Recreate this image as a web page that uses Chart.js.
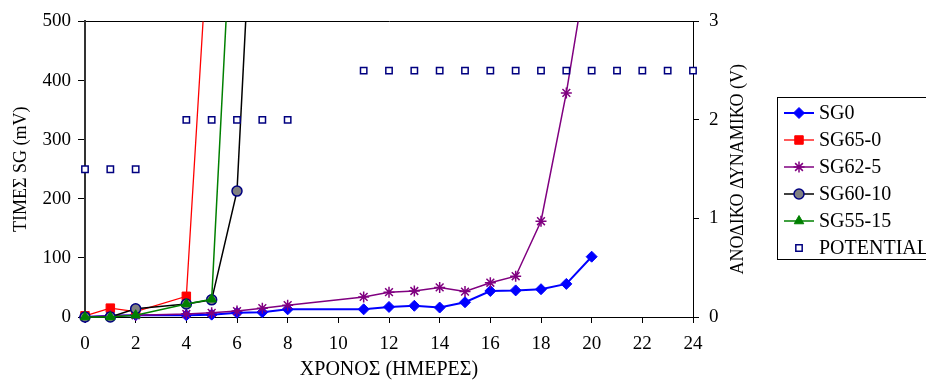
<!DOCTYPE html>
<html>
<head>
<meta charset="utf-8">
<script src="https://cdn.jsdelivr.net/npm/chart.js@4.4.1/dist/chart.umd.min.js"></script>
<style>
  body { margin: 0; background: #fff; overflow: hidden; }
  #wrap { position: relative; width: 926px; height: 387px; overflow: hidden; }
  #chart { position: absolute; left: 0; top: 0; }
  #legend {
    position: absolute; left: 777px; top: 97px; width: 220px; height: 161px;
    border: 1px solid #000; background: #fff;
    font-family: "Liberation Serif", "Times New Roman", serif; font-size: 20px; color: #000;
  }
  .item { position: absolute; left: 6px; height: 27px; display: flex; align-items: center; white-space: nowrap; }
  .item canvas { margin-right: 5px; }
</style>
</head>
<body>
<div id="wrap">
  <canvas id="chart" width="926" height="387"></canvas>
  <div id="legend"></div>
</div>
<script>
// Data
const xTitle = 'ΧΡΟΝΟΣ (ΗΜΕΡΕΣ)';
const yTitle = 'ΤΙΜΕΣ SG (mV)';
const y1Title = 'ΑΝΟΔΙΚΟ ΔΥΝΑΜΙΚΟ (V)';

const sg0Days = [0, 1, 2, 4, 5, 6, 7, 8, 11, 12, 13, 14, 15, 16, 17, 18, 19, 20];
const sg0Vals = [0, 2, 3, 3, 4, 7, 8, 13, 13, 17, 19, 16, 25, 44, 45, 47, 56, 102];

const sg65Days = [0, 1, 2, 4, 5];
const sg65Vals = [2, 15, 9, 35, 740];

const sg62Days = [0, 1, 2, 4, 5, 6, 7, 8, 11, 12, 13, 14, 15, 16, 17, 18, 19, 20];
const sg62Vals = [0, 2, 3, 5, 7, 10, 15, 20, 34, 42, 44, 50, 43, 58, 69, 162, 379, 640];

const sg60Days = [0, 1, 2, 4, 5, 6, 7];
const sg60Vals = [0, 0, 14, 22, 29, 213, 1050];

const sg55Days = [0, 1, 2, 4, 5, 6];
const sg55Vals = [0, 0, 3, 22, 30, 860];

const potDays = [0, 1, 2, 4, 5, 6, 7, 8, 11, 12, 13, 14, 15, 16, 17, 18, 19, 20, 21, 22, 23, 24];
const potVals = [1.5, 1.5, 1.5, 2, 2, 2, 2, 2, 2.5, 2.5, 2.5, 2.5, 2.5, 2.5, 2.5, 2.5, 2.5, 2.5, 2.5, 2.5, 2.5, 2.5];

const toPoints = (days, vals) => days.map((d, i) => ({ x: d, y: vals[i] }));

const series = [
    { label: 'SG0', data: toPoints(sg0Days, sg0Vals), borderColor: '#0000ff', backgroundColor: '#0000ff',
      pointBorderColor: '#0000ff', borderWidth: 2, pointStyle: 'rectRot', pointRadius: 5.5 },
    { label: 'SG65-0', data: toPoints(sg65Days, sg65Vals), borderColor: '#ff0000', backgroundColor: '#ff0000',
      pointBorderColor: '#ff0000', borderWidth: 1.3, pointStyle: 'rect', pointRadius: 6 },
    { label: 'SG62-5', data: toPoints(sg62Days, sg62Vals), borderColor: '#800080', backgroundColor: '#800080',
      pointBorderColor: '#800080', borderWidth: 1.5, pointStyle: 'star', pointRadius: 5.5, pointBorderWidth: 1.5 },
    { label: 'SG60-10', data: toPoints(sg60Days, sg60Vals), borderColor: '#000000', backgroundColor: '#808080',
      pointBorderColor: '#000080', borderWidth: 1.5, pointStyle: 'circle', pointRadius: 5, pointBorderWidth: 1.5 },
    { label: 'SG55-15', data: toPoints(sg55Days, sg55Vals), borderColor: '#008000', backgroundColor: '#008000',
      pointBorderColor: '#008000', borderWidth: 1.5, pointStyle: 'triangle', pointRadius: 5.5 },
    { label: 'POTENTIAL', data: toPoints(potDays, potVals), borderColor: '#000080', backgroundColor: '#ffffff',
      pointBorderColor: '#000080', showLine: false, pointStyle: 'rect', pointRadius: 4.5, pointBorderWidth: 1.5,
      yAxisID: 'y1' }
];

const datasets = series.map((s, i) => Object.assign({
    yAxisID: 'y',
    pointBackgroundColor: s.backgroundColor,
    pointBorderWidth: 1,
    tension: 0,
    clip: { left: 10, right: 10, top: 0, bottom: 10 },
    order: series.length - i
}, s));

Chart.defaults.font.family = '"Liberation Serif", "Times New Roman", serif';
Chart.defaults.font.size = 19;
Chart.defaults.color = '#000';

// right axis title reads bottom-to-top in the reference
const rightTitle = {
    id: 'rightTitle',
    afterDraw(chart) {
        const { ctx, chartArea } = chart;
        const s = chart.scales.y1;
        ctx.save();
        ctx.translate(s.left + 45, (chartArea.top + chartArea.bottom) / 2);
        ctx.rotate(-Math.PI / 2);
        ctx.font = '18px "Liberation Serif", "Times New Roman", serif';
        ctx.fillStyle = '#000';
        ctx.textAlign = 'center';
        ctx.textBaseline = 'middle';
        ctx.fillText(y1Title, 0, 0);
        ctx.restore();
    }
};

const chart = new Chart(document.getElementById('chart'), {
    type: 'line',
    data: { datasets: datasets },
    options: {
        responsive: false,
        animation: false,
        layout: { padding: { top: 21, right: 173, bottom: 0, left: 0 } },
        plugins: { legend: { display: false }, tooltip: { enabled: false } },
        scales: {
            x: {
                type: 'linear', min: 0, max: 24,
                ticks: { stepSize: 2, padding: 10, font: { size: 19 } },
                grid: { drawOnChartArea: false, tickLength: 6, tickColor: '#000' },
                border: { color: '#000', width: 1 },
                title: { display: true, text: xTitle, font: { size: 20 }, padding: { top: 0, bottom: 5 } },
                afterFit: s => { s.height = 70; }
            },
            y: {
                position: 'left', min: 0, max: 500,
                ticks: { stepSize: 100, padding: 7, font: { size: 19 } },
                grid: {
                    drawOnChartArea: true, tickLength: 7, tickColor: '#000',
                    color: ctx => (ctx.tick && ctx.tick.value === 500 ? '#000' : 'rgba(0,0,0,0)')
                },
                border: { color: '#333', width: 2 },
                title: { display: true, text: yTitle, font: { size: 18 }, padding: { top: 10, bottom: 0 } },
                afterFit: s => { s.width = 85; }
            },
            y1: {
                position: 'right', min: 0, max: 3,
                ticks: { stepSize: 1, padding: 10, font: { size: 19 } },
                grid: { drawOnChartArea: false, tickLength: 6, tickColor: '#000' },
                border: { color: '#000', width: 1 },
                afterFit: s => { s.width = 60; }
            }
        }
    },
    plugins: [rightTitle]
});

// HTML legend: line + marker sample drawn with Chart.js's own point helper
const legendBox = document.getElementById('legend');
series.forEach((s, i) => {
    const item = document.createElement('div');
    item.className = 'item';
    item.style.top = (1 + i * 27) + 'px';
    const c = document.createElement('canvas');
    c.width = 30; c.height = 20;
    const ctx = c.getContext('2d');
    if (s.showLine !== false) {
        ctx.strokeStyle = s.borderColor;
        ctx.lineWidth = s.borderWidth;
        ctx.beginPath(); ctx.moveTo(0, 10); ctx.lineTo(30, 10); ctx.stroke();
    }
    ctx.fillStyle = s.backgroundColor;
    ctx.strokeStyle = s.pointBorderColor;
    ctx.lineWidth = s.pointBorderWidth || 1;
    Chart.helpers.drawPoint(ctx, {
        pointStyle: s.pointStyle, radius: s.pointRadius, rotation: 0,
        borderWidth: s.pointBorderWidth || 1
    }, 15, 10);
    item.appendChild(c);
    const t = document.createElement('span');
    t.textContent = s.label;
    item.appendChild(t);
    legendBox.appendChild(item);
});
</script>
</body>
</html>
